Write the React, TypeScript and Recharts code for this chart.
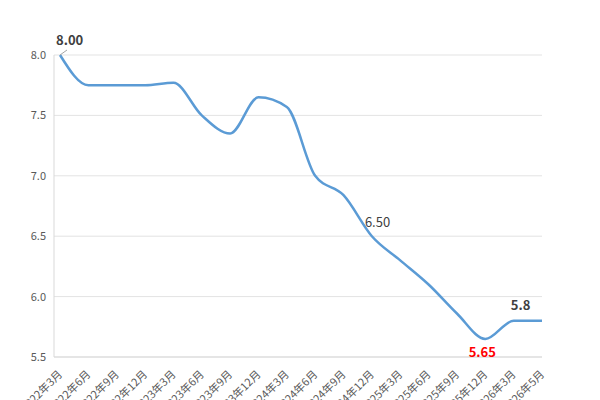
import React from 'react';
import { LineChart, Line, XAxis, YAxis, CartesianGrid, LabelList } from 'recharts';

const months = [
  '2022年3月', '2022年6月', '2022年9月', '2022年12月',
  '2023年3月', '2023年6月', '2023年9月', '2023年12月',
  '2024年3月', '2024年6月', '2024年9月', '2024年12月',
  '2025年3月', '2025年6月', '2025年9月', '2025年12月',
  '2026年3月', '2026年5月'
];

const rates = [
  8.0, 7.75, 7.75, 7.75,
  7.77, 7.5, 7.35, 7.65,
  7.57, 7.0, 6.84, 6.5,
  6.3, 6.1, 5.86, 5.65,
  5.8, 5.8
];

const pointLabels = [
  '8.00', '', '', '',
  '', '', '', '',
  '', '', '', '6.50',
  '', '', '', '5.65',
  '5.8', ''
];

const yTicks = [5.5, 6.0, 6.5, 7.0, 7.5, 8.0];

const data = months.map((m, i) => ({ month: m, rate: rates[i], label: pointLabels[i] }));

const FONT = '"Noto Sans CJK SC", "Noto Sans", sans-serif';

// rotated category labels, like the spreadsheet export
const MonthTick = ({ x, y, payload }: any) => (
  <g transform={`translate(${x + 3},${y + 10})`}>
    <text textAnchor="end" transform="rotate(-45)" fontSize={11} fill="#595959" fontFamily={FONT}>
      {payload.value}
    </text>
  </g>
);

const PointLabel = ({ x, y, index }: any) => {
  const text = pointLabels[index];
  if (!text) return null;
  if (index === 0) {
    return (
      <g>
        <line x1={x} y1={y} x2={x + 7} y2={y - 5} stroke="#a6a6a6" strokeWidth={1} />
        <text x={x - 4} y={y - 10} fontSize={13} fontWeight="bold" fill="#404040" fontFamily={FONT}>
          {text}
        </text>
      </g>
    );
  }
  if (index === 15) {
    return (
      <text x={x - 3} y={y + 18} textAnchor="middle" fontSize={13} fontWeight="bold" fill="#ff0000" fontFamily={FONT}>
        {text}
      </text>
    );
  }
  if (index === 16) {
    return (
      <text x={x + 7} y={y - 11} textAnchor="middle" fontSize={13} fontWeight="bold" fill="#404040" fontFamily={FONT}>
        {text}
      </text>
    );
  }
  return (
    <text x={x - 7} y={y - 9} fontSize={13} fill="#404040" fontFamily={FONT}>
      {text}
    </text>
  );
};

export default function App() {
  return (
    <div style={{ position: 'absolute', left: 0, top: 0, width: 600, height: 400, background: '#fff', overflow: 'hidden' }}>
      <LineChart width={600} height={400} data={data} margin={{ top: 55, right: 58, bottom: 0, left: 0 }}>
        <CartesianGrid vertical={false} stroke="#e3e3e3" />
        <XAxis
          dataKey="month"
          interval={0}
          tickLine={false}
          axisLine={{ stroke: '#d9d9d9' }}
          tick={<MonthTick />}
          padding={{ left: 6, right: 0 }}
          height={43}
        />
        <YAxis
          width={54}
          domain={[5.5, 8]}
          ticks={yTicks}
          tickLine={false}
          axisLine={{ stroke: '#d9d9d9' }}
          tickFormatter={(v: number) => v.toFixed(1)}
          tick={{ fontSize: 11, fill: '#595959', fontFamily: FONT }}
        />
        <Line
          type="monotone"
          dataKey="rate"
          stroke="#5b9bd5"
          strokeWidth={2.5}
          dot={false}
          isAnimationActive={false}
        >
          <LabelList dataKey="label" content={<PointLabel />} />
        </Line>
      </LineChart>
    </div>
  );
}
